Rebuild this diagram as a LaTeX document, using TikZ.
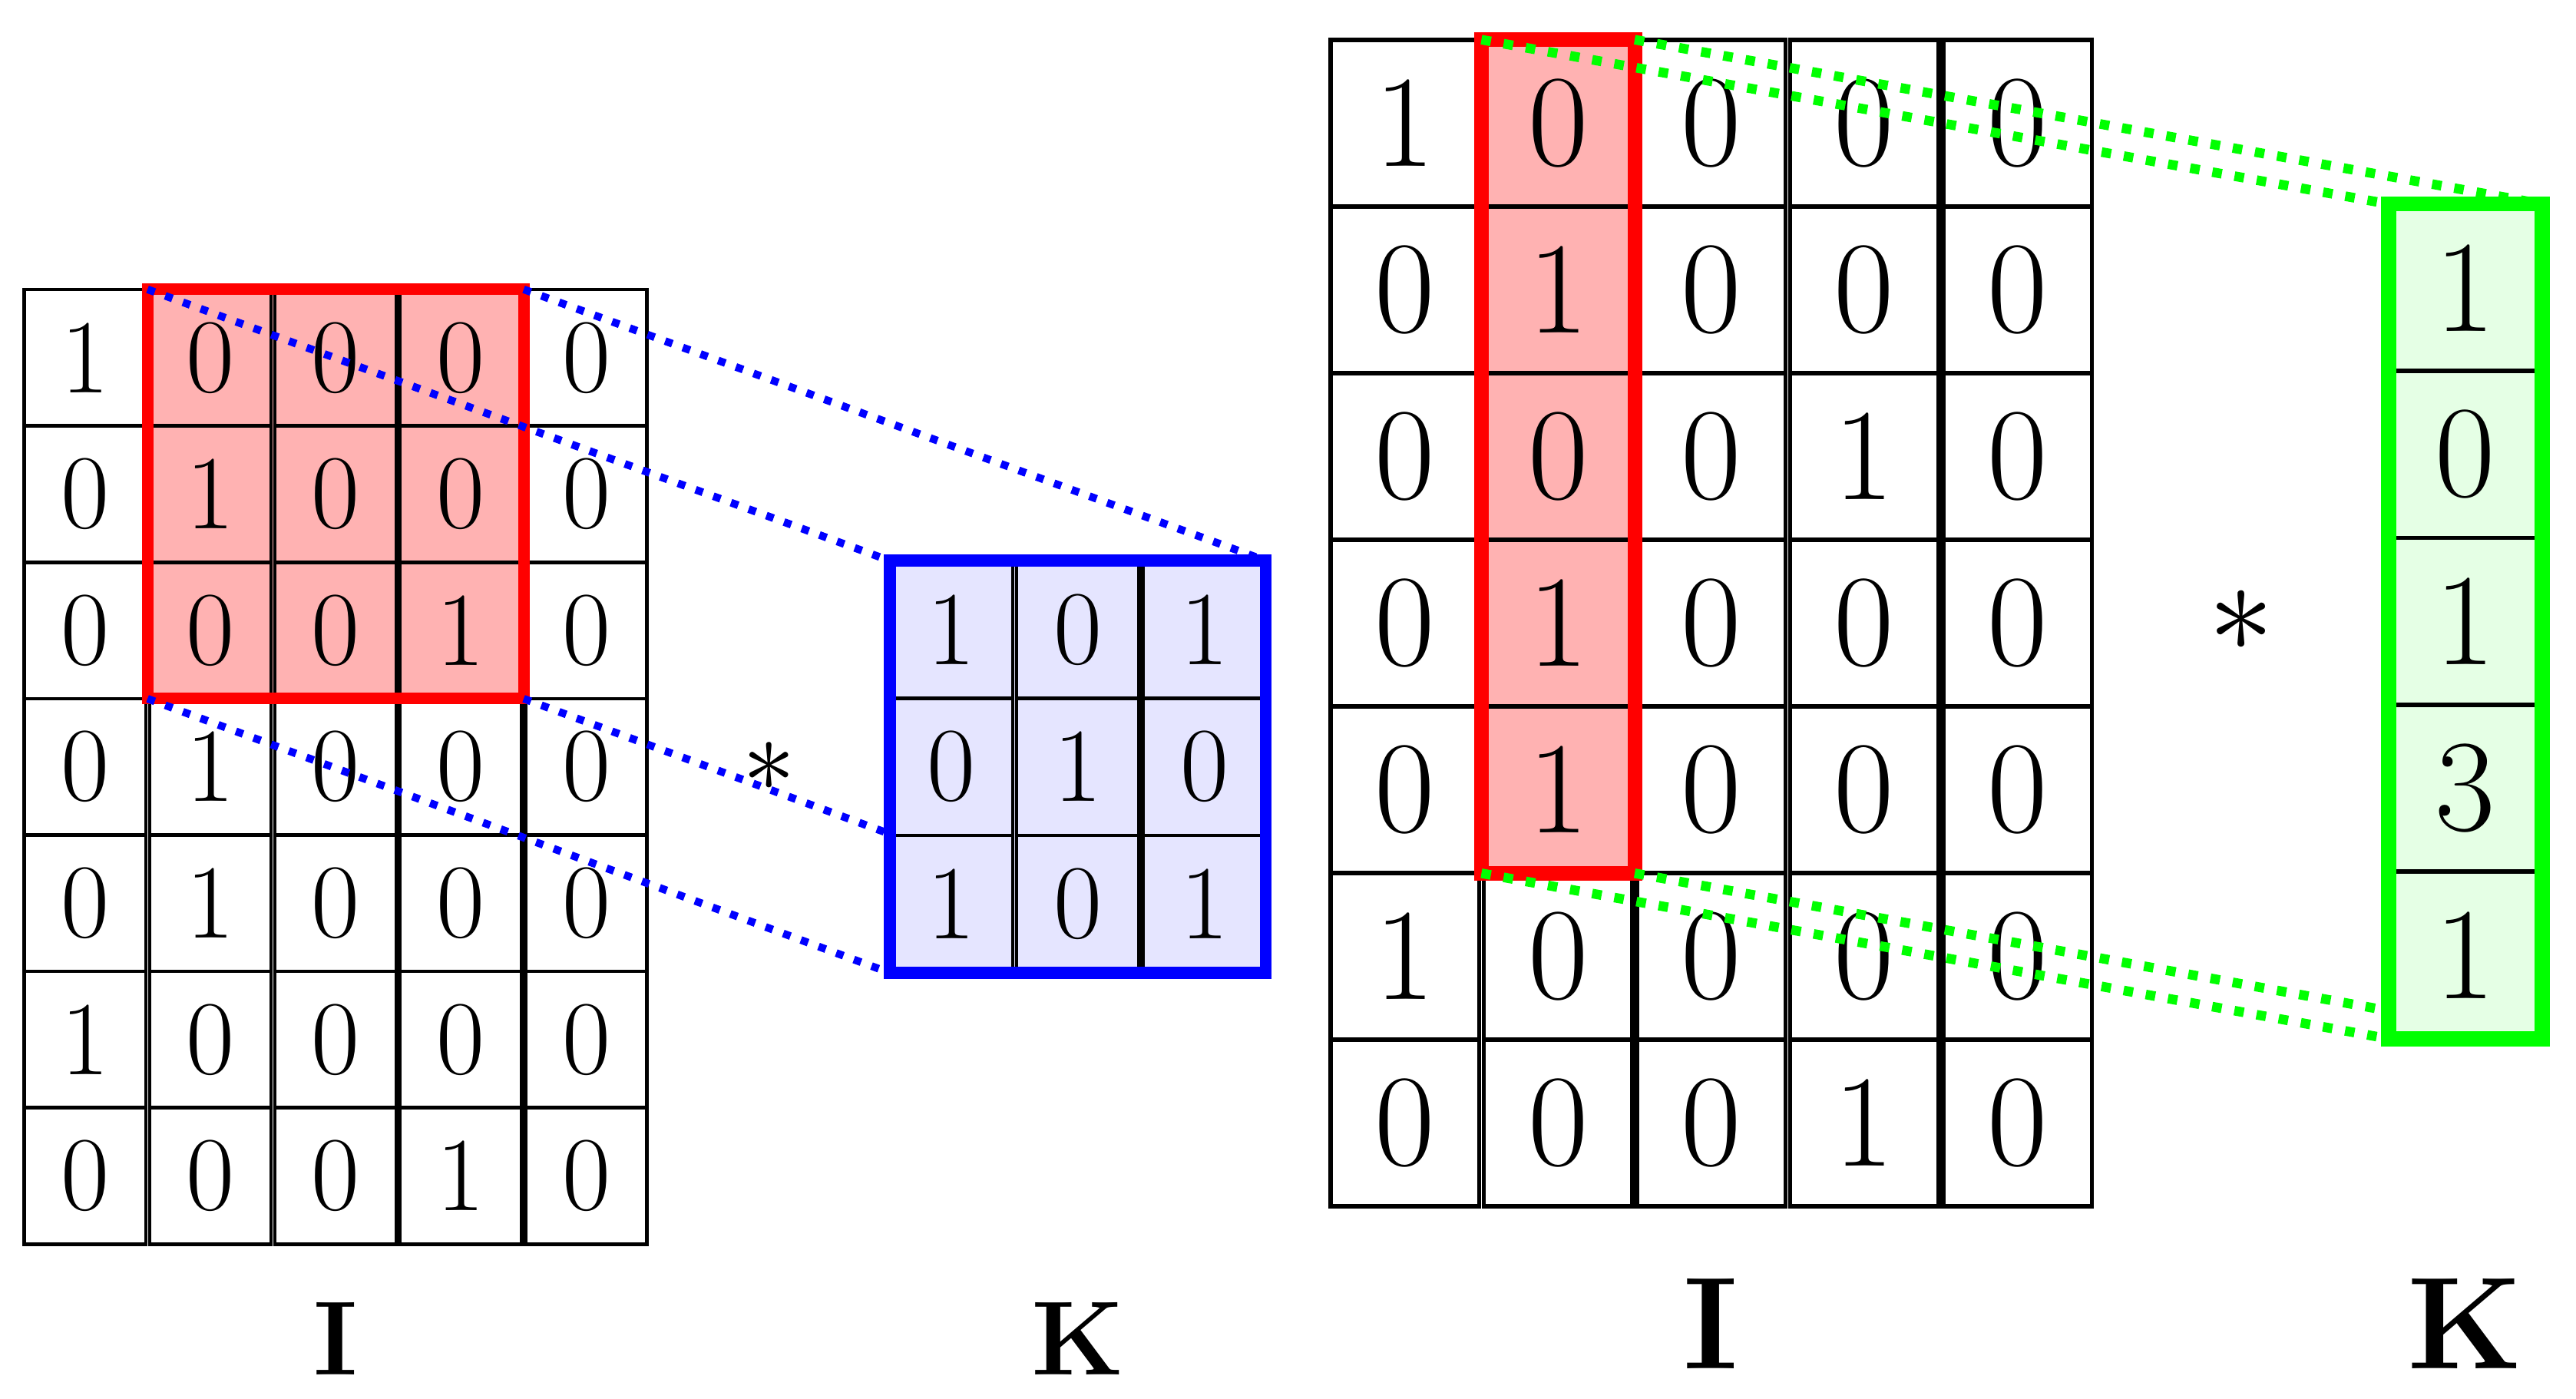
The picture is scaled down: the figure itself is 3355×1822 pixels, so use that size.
\documentclass[tikz,border=0pt]{standalone}
\tikzset{
  lcell/.style={draw=black, line width=0.045cm, minimum width=1.582cm, minimum height=1.776cm,
                inner sep=0pt, outer sep=0pt, font=\fontsize{39}{45}\selectfont},
  bcell/.style={lcell, minimum width=1.598cm, minimum height=1.788cm},
  rcell/.style={draw=black, line width=0.055cm, minimum width=1.9346cm, minimum height=2.17cm,
                inner sep=0pt, outer sep=0pt, font=\fontsize{48.5}{56}\selectfont},
  gcell/.style={rcell, minimum width=2.0cm, minimum height=2.173cm},
  hlbox/.style={inner sep=0pt, outer sep=0pt},
  bluedots/.style={draw=blue, line width=0.10cm, dash pattern=on 0.10cm off 0.145cm},
  greendots/.style={draw=green, line width=0.125cm, dash pattern=on 0.125cm off 0.168cm},
  lbl/.style={anchor=base, inner sep=0pt, font=\fontsize{39}{45}\selectfont\bfseries},
  rlbl/.style={anchor=base, inner sep=0pt, font=\fontsize{48.5}{56}\selectfont\bfseries},
  opstar/.style={inner sep=0pt},
}
\begin{document}
\begin{tikzpicture}[x=0.01cm,y=-0.01cm]
\path[use as bounding box, fill=white] (0,0) rectangle (3355,1822);

% ---------------- left: 2D convolution ----------------
\node[hlbox, fill=red!30, minimum width=4.896cm, minimum height=5.328cm] (redL) at (437.1,643.4) {};
\foreach \row [count=\r from 0] in {{1,0,0,0,0},{0,1,0,0,0},{0,0,0,1,0},{0,1,0,0,0},{0,1,0,0,0},{1,0,0,0,0},{0,0,0,1,0}}{
  \foreach \v [count=\c from 0] in \row {
    \node[lcell] (L-\r-\c) at ({110.7+163.2*\c},{377+177.6*(\r+0.5)}) {\v};
  }
}
\draw[red, line width=0.15cm] (redL.north west) rectangle (redL.south east);

\node[hlbox, minimum width=4.895cm, minimum height=5.364cm] (blueK) at (1403.8,998.6) {};
\draw[bluedots] (redL.north west) -- (blueK.north west);
\draw[bluedots] (redL.north east) -- (blueK.north east);
\draw[bluedots] (redL.south west) -- (blueK.south west);
\draw[bluedots] (redL.south east) -- (blueK.south east);
\fill[blue!10] (blueK.north west) rectangle (blueK.south east);
\foreach \row [count=\r from 0] in {{1,0,1},{0,1,0},{1,0,1}}{
  \foreach \v [count=\c from 0] in \row {
    \node[bcell] (B-\r-\c) at ({1238.9+164.8*\c},{730.4+178.8*(\r+0.5)}) {\v};
  }
}
\draw[blue, line width=0.155cm] (blueK.north west) rectangle (blueK.south east);

\node[opstar, scale=3.9] (starL) at (1001.7,999) {$*$};
\node[lbl] (labIL) at (437,1790) {I};
\node[lbl] (labKL) at (1404,1790) {K};

% ---------------- right: 1D convolution ----------------
\node[hlbox, fill=red!30, minimum width=1.995cm, minimum height=10.85cm] (redR) at (2029.2,594.5) {};
\foreach \row [count=\r from 0] in {{1,0,0,0,0},{0,1,0,0,0},{0,0,0,1,0},{0,1,0,0,0},{0,1,0,0,0},{1,0,0,0,0},{0,0,0,1,0}}{
  \foreach \v [count=\c from 0] in \row {
    \node[rcell] (R-\r-\c) at ({1829.7+199.46*\c},{52+217*(\r+0.5)}) {\v};
  }
}
\draw[red, line width=0.19cm] (redR.north west) rectangle (redR.south east);

\node[hlbox, minimum width=2.0cm, minimum height=10.865cm] (greenK) at (3211,809.3) {};
\draw[greendots] (redR.north west) -- (greenK.north west);
\draw[greendots] (redR.north east) -- (greenK.north east);
\draw[greendots] (redR.south west) -- (greenK.south west);
\draw[greendots] (redR.south east) -- (greenK.south east);
\fill[green!10] (greenK.north west) rectangle (greenK.south east);
\foreach \v [count=\r from 0] in {1,0,1,3,1}{
  \node[gcell] (G-\r) at (3211,{266+217.3*(\r+0.5)}) {\v};
}
\draw[green, line width=0.195cm] (greenK.north west) rectangle (greenK.south east);

\node[opstar, scale=4.85] (starR) at (2919,809) {$*$};
\node[rlbl] (labIR) at (2228.5,1782) {I};
\node[rlbl] (labKR) at (3211,1782) {K};
\end{tikzpicture}
\end{document}
